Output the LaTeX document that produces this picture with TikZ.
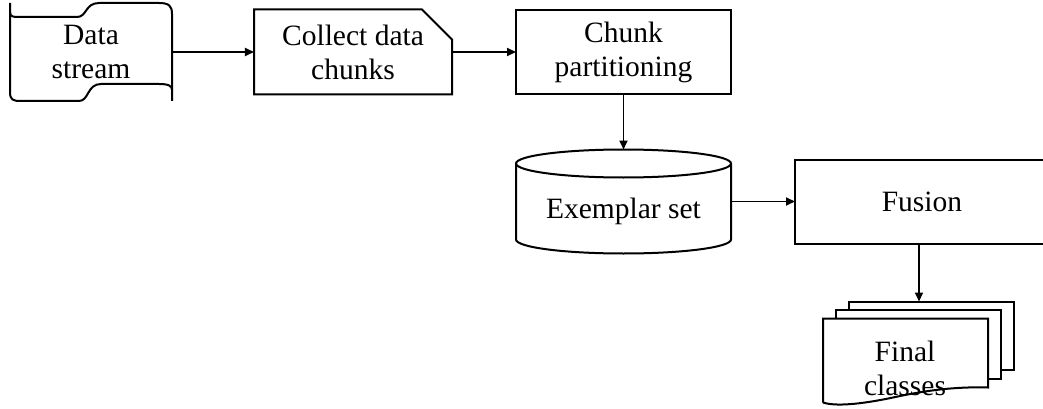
\documentclass[tikz,border=0pt]{standalone}
\usepackage{fontspec}
\setmainfont{Liberation Serif}
\usetikzlibrary{positioning,arrows.meta,shapes.misc}

\begin{document}
\begin{tikzpicture}
[x=1pt,y=-1pt,
 every node/.style={font=\fontsize{29.5}{34}\selectfont,align=center,inner sep=0pt,outer sep=0pt},
 proc/.style={draw,rectangle,line width=2pt},
 cutproc/.style={draw,chamfered rectangle,chamfered rectangle corners=north east,
                 chamfered rectangle xsep=15pt,chamfered rectangle ysep=15pt,line width=2pt},
 outline/.style={draw,line width=2pt},
 arr/.style={-{Triangle[length=9pt,width=8pt]},line width=1.8pt}]

\useasboundingbox (0,0) rectangle (1043,409);
\clip (0,0) rectangle (1043,409);

% data stream (punched tape)
\node (stream) at (91,52) [minimum width=162pt,minimum height=80pt] {Data\\stream};
\draw[outline,shift={(stream.center)}]
  (-81,-49) -- (-81,40) .. controls (-81,48) and (-78,49) .. (-70,49) -- (-12,49)
  .. controls (-2,49) and (-4,32) .. (10,32) -- (68,32) .. controls (78,32) and (81,34) .. (81,38);
\draw[outline,shift={(stream.center)}]
  (-81,-40) .. controls (-81,-35) and (-78,-35) .. (-71,-35) -- (-14,-35)
  .. controls (-4,-35) and (-6,-49) .. (8,-49) -- (68,-49) .. controls (78,-49) and (81,-46) .. (81,-38) -- (81,49);

% boxes
\node[cutproc] (collect) [on grid,right=262pt of stream,minimum width=198pt,minimum height=85pt] {Collect data\\chunks};
\node[proc]    (chunk)   [on grid,right=270.5pt of collect,minimum width=215pt,minimum height=84pt] {Chunk\\partitioning};

% exemplar set (cylinder)
\node (exemplar) [on grid,below=149.5pt of chunk,minimum width=215pt,text height=69pt,text depth=35pt] {Exemplar set};
\draw[outline,shift={(exemplar.center)}]
  (-107.5,-38) -- (-107.5,38) arc[start angle=180,end angle=0,x radius=107.5,y radius=14] -- (107.5,-38);
\draw[outline,shift={(exemplar.center)}] (0,-38) ellipse [x radius=107.5,y radius=14];

\node[proc] (fusion) [on grid,right=298.5pt of exemplar,minimum width=254pt,minimum height=84pt] {Fusion};

% final classes (stacked documents)
\node (final) [on grid,below left=167pt and 17pt of fusion] {Final\\classes};
\begin{scope}[shift={(final.center)}]
  \draw[outline] (-56,-59) -- (-56,-67) -- (109,-67) -- (109,1) -- (96,1);
  \draw[outline] (-69,-50) -- (-69,-59) -- (96,-59) -- (96,10) -- (83,10);
  \draw[outline] (-82,34) -- (-82,-50) -- (83,-50) -- (83,19)
    .. controls (50,18) and (20,22) .. (-12,29) .. controls (-45,36) and (-70,38) .. (-82,34);
  \coordinate (stacktop) at (14,-67);
\end{scope}

\draw[arr] (stream)   -- (collect);
\draw[arr] (collect)  -- (chunk);
\draw[arr] (chunk)    -- (exemplar);
\draw[arr] (exemplar) -- (fusion);
\draw[arr] (stacktop |- fusion.south) -- (stacktop);

\end{tikzpicture}
\end{document}
